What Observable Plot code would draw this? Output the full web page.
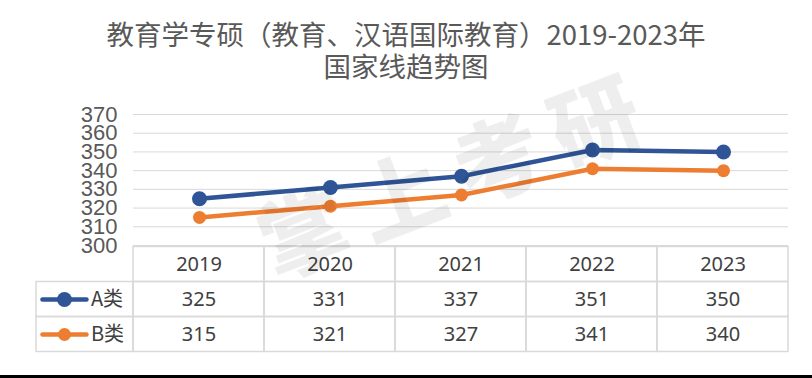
<!DOCTYPE html>
<html>
<head>
<meta charset="utf-8">
<script src="https://cdn.jsdelivr.net/npm/d3@7"></script>
<script src="https://cdn.jsdelivr.net/npm/@observablehq/plot@0.6"></script>
<style>
  html, body { margin: 0; padding: 0; background: #fff; }
  #wrap { position: relative; width: 812px; height: 378px; overflow: hidden; background: #fff; }
  .title { position: absolute; left: 0; width: 812px; text-align: center;
           font-family: "Noto Sans CJK SC", "Noto Sans", sans-serif; font-size: 27.5px;
           line-height: 30px; color: #595959; z-index: 3; white-space: nowrap; }
  #t1 { top: 18px; }
  #t2 { top: 50px; }
  #chart { position: absolute; left: 0; top: 0; z-index: 1; }
  #table { position: absolute; left: 0; top: 246px; z-index: 1; }
  #wm { position: absolute; left: 215px; top: 120px; width: 480px; text-align: center;
        font-family: "Noto Sans CJK SC", sans-serif; font-weight: 900; font-size: 88px;
        color: rgba(0,0,0,0.065); transform: rotate(-21deg); transform-origin: 50% 50%;
        z-index: 2; pointer-events: none; line-height: 100px; letter-spacing: 16px; white-space: nowrap; }
  #bottomBar { position: absolute; left: 0; top: 375px; width: 812px; height: 3px; background: #000; z-index: 4; }
</style>
</head>
<body>
<div id="wrap">
  <div class="title" id="t1">教育学专硕（教育、汉语国际教育）2019-2023年</div>
  <div class="title" id="t2">国家线趋势图</div>
  <div id="chart"></div>
  <div id="table"></div>
  <div id="wm">掌上考研</div>
  <div id="bottomBar"></div>
</div>
<script>
// ---- data ----
const years = ["2019", "2020", "2021", "2022", "2023"];
const seriesNames = ["A类", "B类"];
const valuesA = [325, 331, 337, 351, 350];
const valuesB = [315, 321, 327, 341, 340];
const yTicks = [300, 310, 320, 330, 340, 350, 360, 370];
const colors = {"A类": "#2F5597", "B类": "#ED7D31"};
const markerR = {"A类": 7.5, "B类": 6.5};

const rows = [];
years.forEach((yr, i) => {
  rows.push({year: yr, series: "A类", value: valuesA[i]});
  rows.push({year: yr, series: "B类", value: valuesB[i]});
});
const dataA = rows.filter(d => d.series === "A类");
const dataB = rows.filter(d => d.series === "B类");

// ---- chart ----
const chart = Plot.plot({
  width: 812,
  height: 250,
  marginTop: 114,
  marginBottom: 5,
  marginLeft: 133,
  marginRight: 24,
  style: {background: "transparent", overflow: "visible"},
  x: {type: "point", domain: years, padding: 0.5, axis: null},
  y: {domain: [300, 370], ticks: yTicks},
  marks: [
    Plot.gridY(yTicks, {stroke: "#d9d9d9", strokeOpacity: 1, strokeWidth: 1}),
    Plot.axisY(yTicks, {tickSize: 0, tickPadding: 16, fontSize: 22, fill: "#595959",
      fontFamily: "'Liberation Sans', Arial, sans-serif", label: null, tickFormat: d => String(d)}),
    Plot.line(dataB, {x: "year", y: "value", stroke: colors["B类"], strokeWidth: 4.5, strokeLinecap: "round"}),
    Plot.line(dataA, {x: "year", y: "value", stroke: colors["A类"], strokeWidth: 4.5, strokeLinecap: "round"}),
    Plot.dot(dataB, {x: "year", y: "value", r: markerR["B类"], fill: colors["B类"], stroke: null}),
    Plot.dot(dataA, {x: "year", y: "value", r: markerR["A类"], fill: colors["A类"], stroke: null})
  ]
});
document.getElementById("chart").appendChild(chart);

// ---- data table ----
const legendLeft = -0.7405; // legend column width relative to a year column
const cells = [];
years.forEach((yr, i) => {
  [0, 1, 2].forEach(r => cells.push({x1: i, x2: i + 1, y1: r, y2: r + 1}));
});
[1, 2].forEach(r => cells.push({x1: legendLeft, x2: 0, y1: r, y2: r + 1}));

const tableTexts = [];
years.forEach((yr, i) => {
  tableTexts.push({x: i + 0.5, y: 0.5, t: yr});
  tableTexts.push({x: i + 0.5, y: 1.5, t: String(valuesA[i])});
  tableTexts.push({x: i + 0.5, y: 2.5, t: String(valuesB[i])});
});
const legendRows = seriesNames.map((s, k) => ({series: s, y: 1.5 + k}));
const legendA = legendRows.filter(d => d.series === "A类");
const legendB = legendRows.filter(d => d.series === "B类");

const table = Plot.plot({
  width: 812,
  height: 106,
  marginTop: 0.5,
  marginBottom: 0.5,
  marginLeft: 36,
  marginRight: 24,
  style: {background: "transparent", overflow: "visible"},
  x: {type: "linear", domain: [legendLeft, 5], axis: null},
  y: {type: "linear", domain: [0, 3], reverse: true, axis: null},
  marks: [
    Plot.rect(cells, {x1: "x1", x2: "x2", y1: "y1", y2: "y2", fill: "none", stroke: "#d9d9d9", strokeWidth: 1.5}),
    Plot.text(tableTexts, {x: "x", y: "y", text: "t", fontSize: 20, fill: "#404040",
      fontFamily: "'Noto Sans', 'Open Sans', sans-serif"}),
    Plot.link(legendRows, {x1: -0.695, x2: -0.359, y1: "y", y2: "y",
      stroke: d => colors[d.series], strokeWidth: 4.5, strokeLinecap: "round"}),
    Plot.dot(legendA, {x: -0.527, y: "y", r: markerR["A类"], fill: colors["A类"], stroke: null}),
    Plot.dot(legendB, {x: -0.527, y: "y", r: markerR["B类"], fill: colors["B类"], stroke: null}),
    Plot.text(legendRows, {x: -0.325, y: "y", text: "series", textAnchor: "start", fontSize: 20,
      fill: "#404040", fontFamily: "'Noto Sans CJK SC', 'Noto Sans', sans-serif"})
  ]
});
document.getElementById("table").appendChild(table);
</script>
</body>
</html>
